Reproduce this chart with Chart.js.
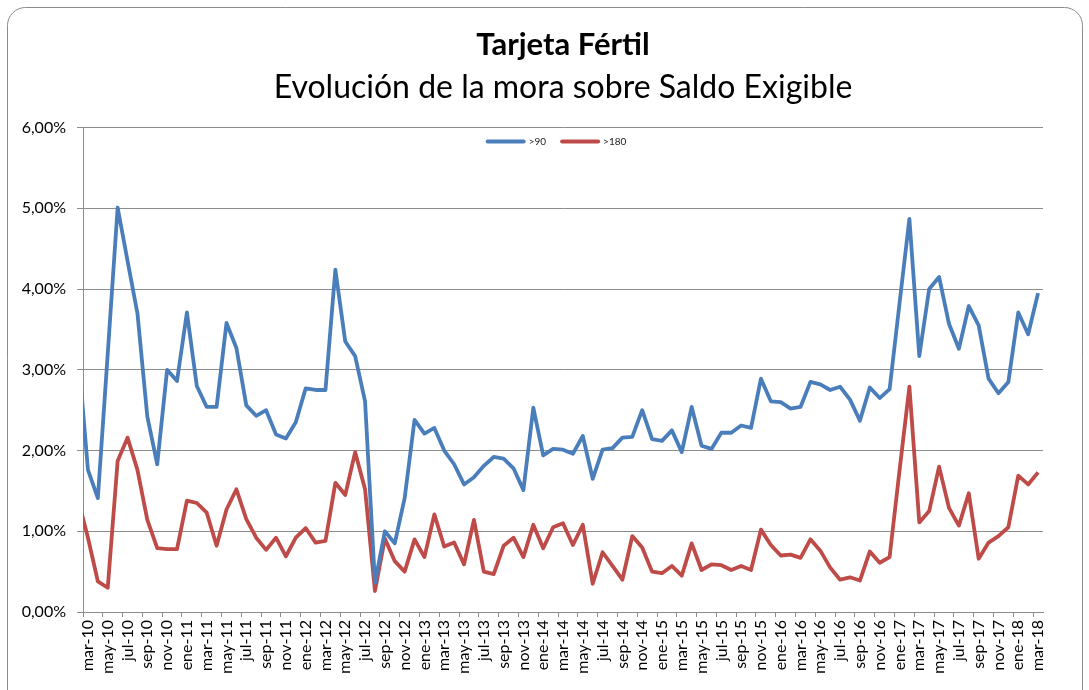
<!DOCTYPE html>
<html>
<head>
<meta charset="utf-8">
<script src="https://cdn.jsdelivr.net/npm/chart.js@4.4.1/dist/chart.umd.min.js"></script>
<style>
  html, body { margin: 0; padding: 0; background: #fff; }
  #wrap { width: 1089px; height: 690px; }
</style>
</head>
<body>
<div id="wrap"><canvas id="moraChart" width="1089" height="690"></canvas></div>
<script>
// meses (el primero, feb-10, queda fuera del eje y solo se ve recortado)
const meses = ['ene', 'feb', 'mar', 'abr', 'may', 'jun', 'jul', 'ago', 'sep', 'oct', 'nov', 'dic'];
const periodos = [];
for (let a = 10; a <= 18; a++) {
  for (let m = 0; m < 12; m++) {
    if (a === 10 && m < 1) continue;
    if (a === 18 && m > 2) break;
    periodos.push(meses[m] + '-' + a);
  }
}

// % de mora > 90 dias
const mora90 = [
  3.23,
  1.76, 1.41, 3.20, 5.01, 4.35, 3.70, 2.42, 1.83, 3.00, 2.86,
  3.71, 2.80, 2.54, 2.54, 3.58, 3.27, 2.56, 2.43, 2.50, 2.20,
  2.15, 2.35, 2.77, 2.75, 2.75, 4.24, 3.35, 3.17, 2.61, 0.36,
  1.00, 0.85, 1.41, 2.38, 2.21, 2.28, 2.00, 1.83, 1.58, 1.67,
  1.81, 1.92, 1.90, 1.78, 1.51, 2.53, 1.94, 2.02, 2.01, 1.96,
  2.18, 1.65, 2.01, 2.03, 2.16, 2.17, 2.50, 2.14, 2.12, 2.25,
  1.98, 2.54, 2.06, 2.02, 2.22, 2.22, 2.31, 2.28, 2.89, 2.61,
  2.60, 2.52, 2.54, 2.85, 2.82, 2.75, 2.79, 2.63, 2.37, 2.78,
  2.65, 2.76, 3.82, 4.87, 3.17, 4.00, 4.15, 3.57, 3.26, 3.79,
  3.55, 2.89, 2.71, 2.85, 3.71, 3.44, 3.95
];

// % de mora > 180 dias
const mora180 = [
  1.40,
  0.92, 0.38, 0.30, 1.87, 2.16, 1.76, 1.14, 0.79, 0.78, 0.78,
  1.38, 1.35, 1.23, 0.82, 1.27, 1.52, 1.15, 0.92, 0.77, 0.92,
  0.69, 0.92, 1.04, 0.86, 0.88, 1.60, 1.45, 1.98, 1.52, 0.26,
  0.91, 0.63, 0.50, 0.90, 0.68, 1.21, 0.81, 0.86, 0.59, 1.14,
  0.50, 0.47, 0.82, 0.92, 0.68, 1.08, 0.79, 1.05, 1.10, 0.83,
  1.08, 0.35, 0.74, 0.57, 0.40, 0.94, 0.80, 0.50, 0.48, 0.57,
  0.45, 0.85, 0.52, 0.59, 0.58, 0.52, 0.57, 0.52, 1.02, 0.83,
  0.70, 0.71, 0.67, 0.90, 0.76, 0.55, 0.40, 0.43, 0.39, 0.75,
  0.61, 0.68, 1.75, 2.79, 1.11, 1.25, 1.80, 1.29, 1.07, 1.47,
  0.66, 0.86, 0.94, 1.05, 1.69, 1.58, 1.73
];

const primerMes = 'mar-10';
const gris = '#8c8c8c';
const fuente = 'Lato, "Open Sans", sans-serif';

// fondo blanco y marco redondeado
const marco = {
  id: 'marco',
  beforeDraw(chart) {
    const c = chart.ctx;
    c.save();
    c.fillStyle = '#fff';
    c.fillRect(0, 0, chart.width, chart.height);
    c.strokeStyle = gris;
    c.lineWidth = 1;
    c.beginPath();
    c.roundRect(7.5, 7.5, 1075, 720, 18);
    c.stroke();
    c.restore();
  }
};

// leyenda dentro del area del grafico
const leyenda = {
  id: 'leyendaInterna',
  afterDraw(chart) {
    const c = chart.ctx;
    const area = chart.chartArea;
    c.save();
    c.font = '10px ' + fuente;
    c.textBaseline = 'middle';
    const largo = 40, hueco = 3, sep = 14;
    const items = chart.data.datasets.map(d => ({ t: d.label, col: d.borderColor, w: c.measureText(d.label).width }));
    let total = 0;
    items.forEach((it, i) => { total += largo + hueco + it.w + (i ? sep : 0); });
    let x = (area.left + area.right) / 2 - 7 - total / 2;
    const y = area.top + 14;
    items.forEach((it, i) => {
      if (i) x += sep;
      c.strokeStyle = it.col;
      c.lineWidth = 4;
      c.lineCap = 'round';
      c.beginPath();
      c.moveTo(x + 2, y);
      c.lineTo(x + largo - 2, y);
      c.stroke();
      x += largo + hueco;
      c.fillStyle = '#222';
      c.fillText(it.t, x, y);
      x += it.w;
    });
    c.restore();
  }
};

const ctx = document.getElementById('moraChart').getContext('2d');

new Chart(ctx, {
  type: 'line',
  data: {
    labels: periodos,
    datasets: [
      {
        label: '>90',
        data: mora90,
        borderColor: '#4a7ebb',
        borderWidth: 3.8,
        borderJoinStyle: 'round',
        pointRadius: 0,
        tension: 0
      },
      {
        label: '>180',
        data: mora180,
        borderColor: '#be4b48',
        borderWidth: 3.8,
        borderJoinStyle: 'round',
        pointRadius: 0,
        tension: 0
      }
    ]
  },
  options: {
    responsive: false,
    animation: false,
    layout: { padding: { top: 0, left: 0, right: 46, bottom: 0 } },
    plugins: {
      legend: { display: false },
      tooltip: { enabled: false },
      title: {
        display: true,
        fullSize: false,
        text: 'Tarjeta Fértil',
        color: '#000',
        font: { family: fuente, size: 31, weight: 'bold', lineHeight: 1.2 },
        padding: { top: 26, bottom: 5 }
      },
      subtitle: {
        display: true,
        fullSize: false,
        text: 'Evolución de la mora sobre Saldo Exigible',
        color: '#000',
        font: { family: fuente, size: 32, weight: 'normal', lineHeight: 1.2 },
        padding: { top: 0, bottom: 21 }
      }
    },
    scales: {
      x: {
        min: primerMes,
        offset: true,
        grid: {
          offset: true,
          drawOnChartArea: false,
          drawTicks: true,
          tickLength: 5,
          color: (c) => (c.type === 'tick' && c.index % 2 === 0) ? gris : 'rgba(0,0,0,0)'
        },
        border: { display: true, color: gris, width: 1 },
        ticks: {
          autoSkip: false,
          minRotation: 90,
          maxRotation: 90,
          padding: 3,
          color: '#000',
          font: { family: fuente, size: 16 },
          callback: function (v, i) { return i % 2 === 0 ? this.getLabelForValue(v) : ''; }
        },
        afterFit(s) { s.height = 78; }
      },
      y: {
        min: 0,
        max: 6,
        grid: { color: gris, tickLength: 6, lineWidth: 1 },
        border: { display: true, color: gris, width: 1 },
        ticks: {
          stepSize: 1,
          padding: 11,
          color: '#000',
          font: { family: fuente, size: 16 },
          callback: (v) => v.toFixed(2).replace('.', ',') + '%'
        },
        afterFit(s) { s.width = 83; }
      }
    }
  },
  plugins: [marco, leyenda]
});
</script>
</body>
</html>
